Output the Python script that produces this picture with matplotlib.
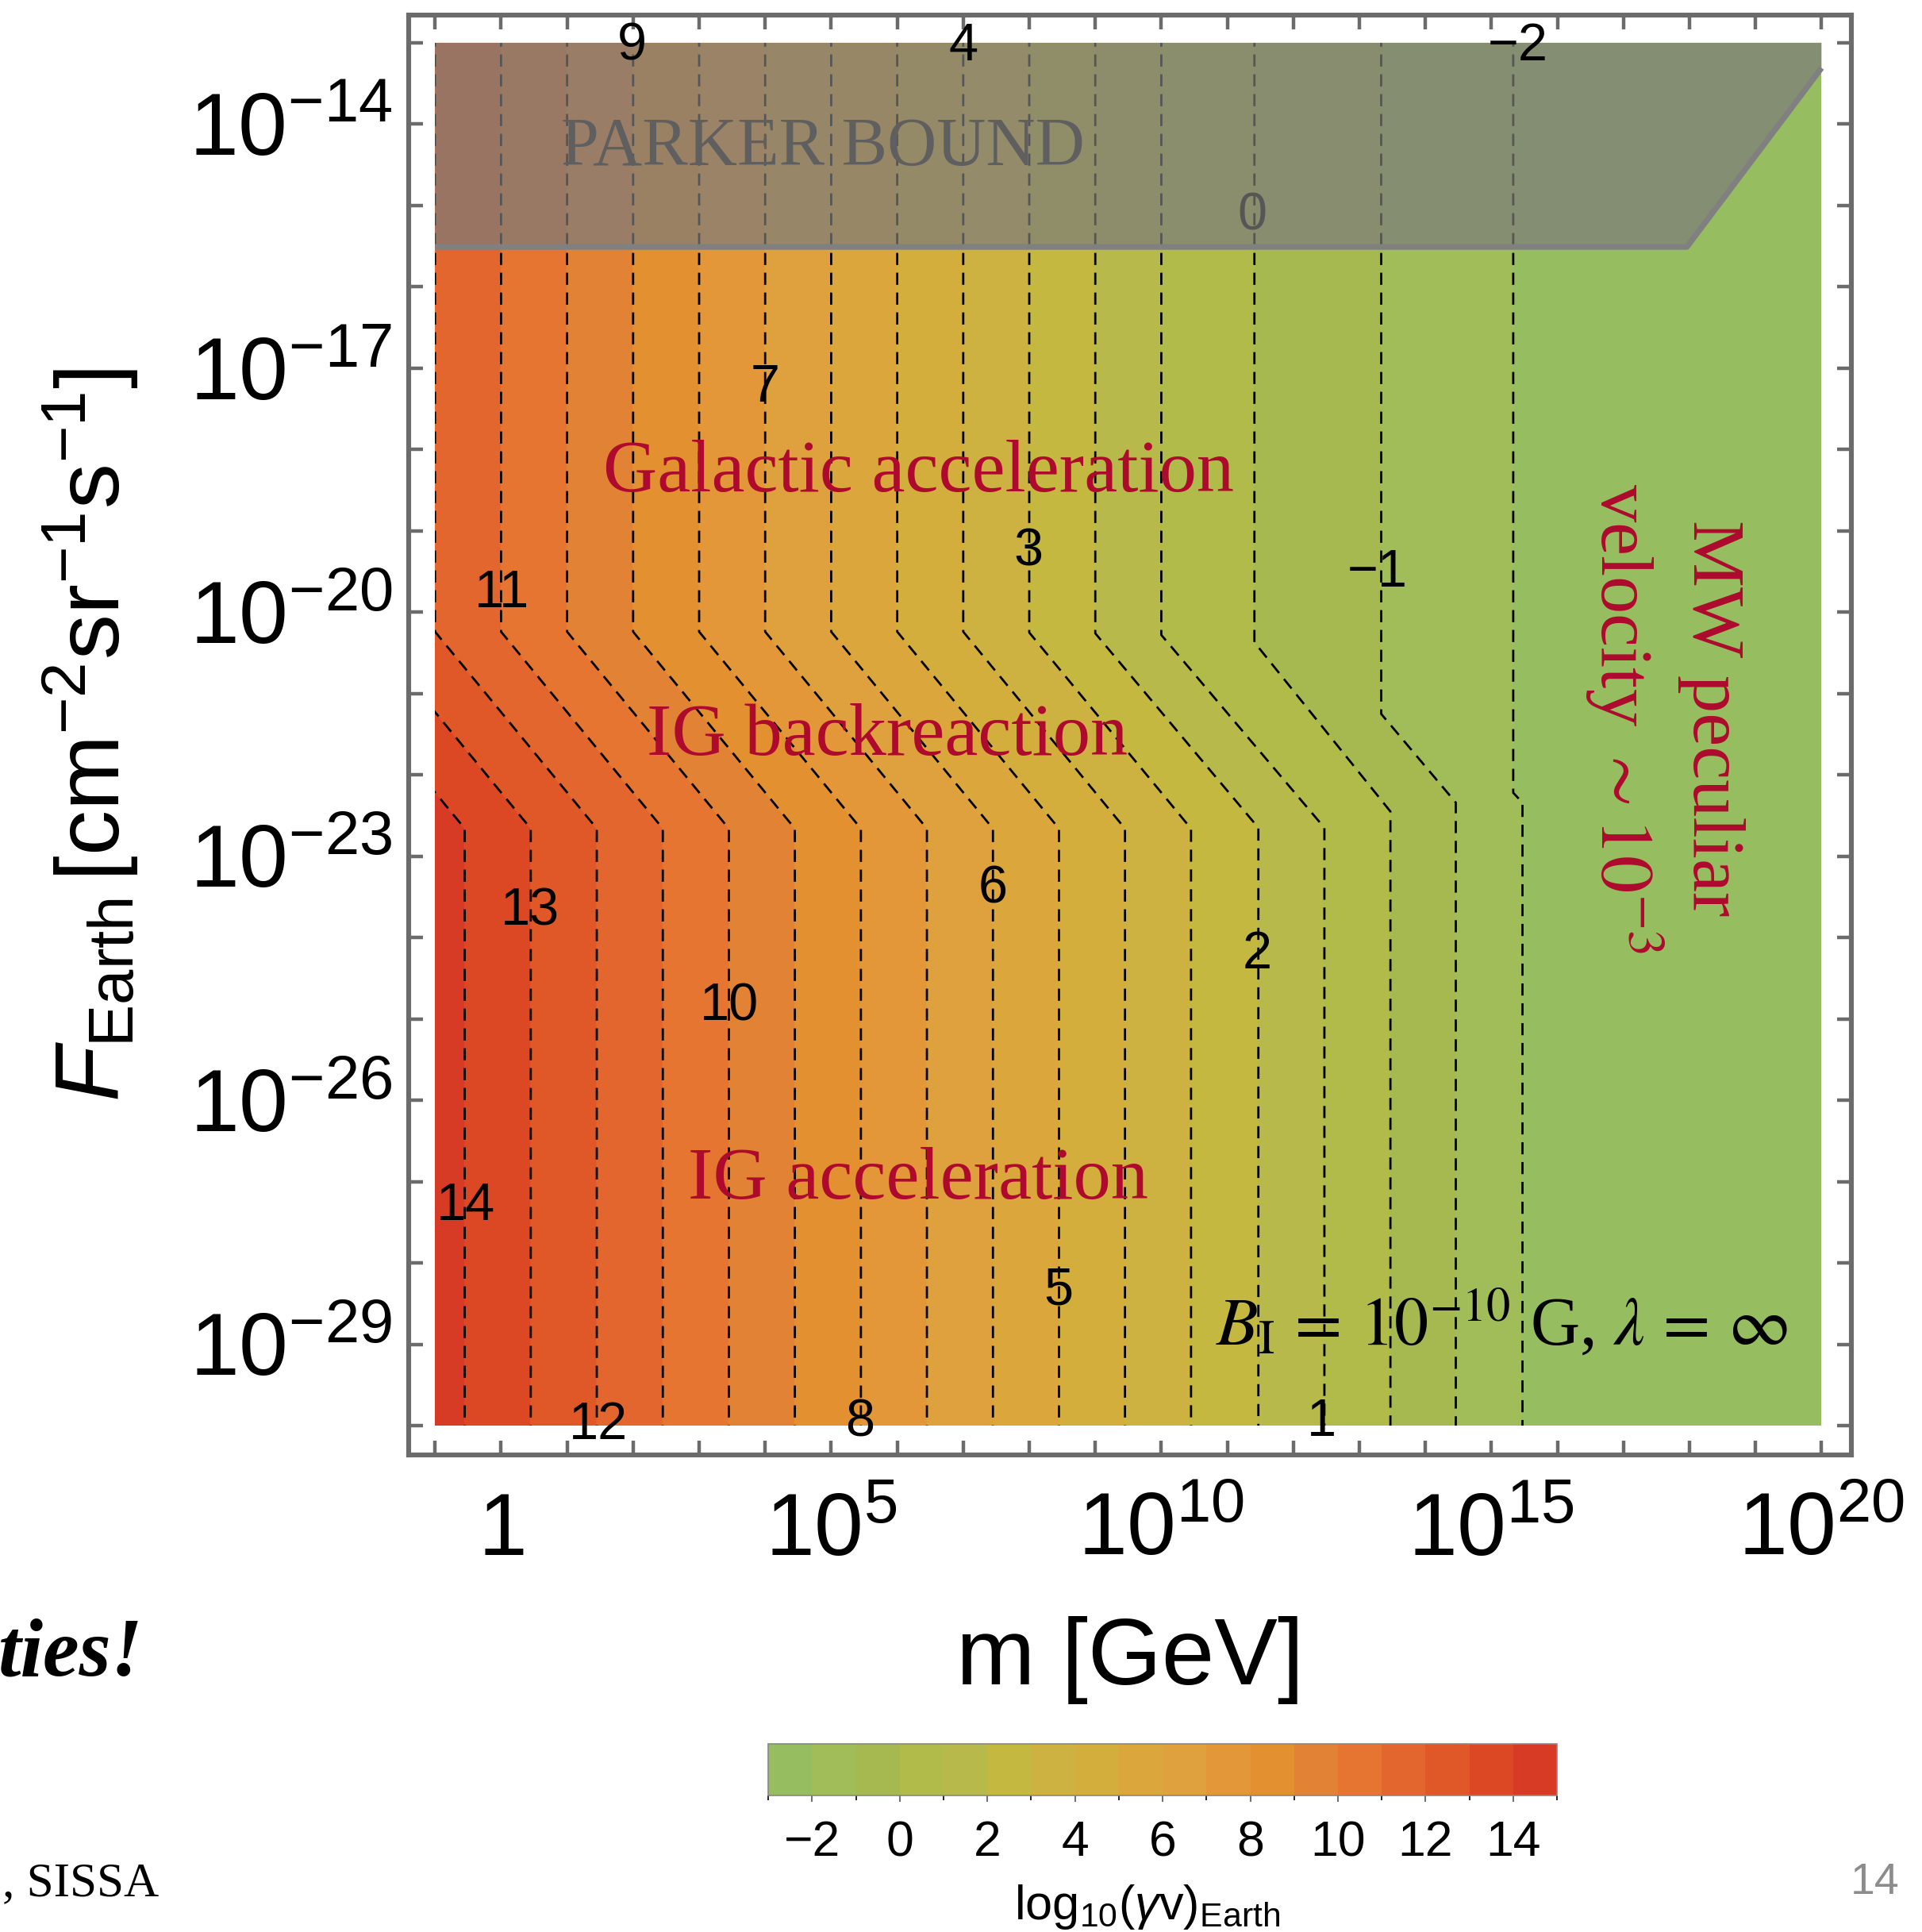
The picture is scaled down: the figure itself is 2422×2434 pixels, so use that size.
import numpy as np
import matplotlib
matplotlib.use("Agg")
import matplotlib.pyplot as plt
import matplotlib.ticker as mticker
from matplotlib.colors import ListedColormap, BoundaryNorm
from matplotlib.cm import ScalarMappable
from matplotlib.patches import Rectangle
from matplotlib.transforms import ScaledTranslation

plt.rcParams['font.family'] = ['Liberation Sans', 'DejaVu Sans']
plt.rcParams['mathtext.fontset'] = 'custom'
plt.rcParams['mathtext.rm'] = 'Liberation Sans'
plt.rcParams['mathtext.it'] = 'Liberation Sans:italic'
plt.rcParams['mathtext.bf'] = 'Liberation Sans:bold'

# contour levels of log10(gamma v), left to right, and where each dashed line runs
# (log10 m on top, bend points in log10 F, log10 m below)
levels = [14, 13, 12, 11, 10, 9, 8, 7, 6, 5, 4, 3, 2, 1, 0, -1, -2]
m_top = [-3.0, -2.0, -1.0, 0.0, 1.0, 2.0, 3.0, 4.0, 5.0, 6.0, 7.0, 8.0, 9.0, 10.0, 11.41, 13.33, 15.33]
F_bend_top = [-20.24, -20.24, -20.24, -20.24, -20.24, -20.24, -20.24, -20.24, -20.24, -20.24,
              -20.24, -20.25, -20.26, -20.28, -20.37, -21.25, -22.22]
F_bend_bot = [-22.66, -22.66, -22.66, -22.66, -22.66, -22.66, -22.66, -22.66, -22.66, -22.66,
              -22.66, -22.66, -22.65, -22.65, -22.45, -22.34, -22.34]
m_bot = [-0.55, 0.45, 1.45, 2.45, 3.45, 4.45, 5.45, 6.45, 7.45, 8.45, 9.45, 10.45, 11.47, 12.47,
         13.47, 14.46, 15.47]

# colour of each band, from [14, 15] down to [-3, -2]
band_colors = ['#d73a25', '#dc4724', '#e05828', '#e2662d', '#e57530', '#e28235', '#e39031',
               '#e49738', '#dea13d', '#dba63b', '#d4ae3d', '#cdb242', '#c4b841', '#b8b94b',
               '#b0bb4a', '#a6b950', '#a0bd5a', '#96bd5f']
cbar_bounds = [-3, -2, -1, 0, 1, 2, 3, 4, 5, 6, 7, 8, 9, 10, 11, 12, 13, 14, 15]
cbar_ticks = [-2, 0, 2, 4, 6, 8, 10, 12, 14]

# Parker bound region (log10 m, log10 F)
parker_m = [-1.0, 17.96, 20.0, 20.0, -1.0]
parker_F = [-15.51, -15.51, -13.31, -13.0, -13.0]

# contour labels
lab_text = ['9', '4', '\u22122', '0', '7', '3', '\u22121', '11', '13', '6', '2', '10', '14', '5', '12', '8', '1']
lab_m = [1.98, 7.0, 15.4, 11.38, 4.0, 7.99, 13.27, 0.01, 0.44, 7.45, 11.45, 3.46, -0.53, 8.44, 1.47, 5.44, 12.43]
lab_F = [-13.05, -13.05, -13.05, -15.13, -17.25, -19.26, -19.52, -19.77, -23.68, -23.41, -24.21,
         -24.85, -27.31, -28.34, -30.0, -29.96, -29.96]

x_tick_pos = [0, 5, 10, 15, 20]
x_tick_lab = ['$1$', '$10^{5}$', '$10^{10}$', '$10^{15}$', '$10^{20}$']
y_tick_pos = [-14, -17, -20, -23, -26, -29]
y_tick_lab = ['$10^{-14}$', '$10^{-17}$', '$10^{-20}$', '$10^{-23}$', '$10^{-26}$', '$10^{-29}$']

frame_col = '#6b6b6b'
red_txt = '#ae0a2e'
dash = (0, (5.5, 3.5))

fig = plt.figure(figsize=(12.11, 12.17), dpi=200)
ax = fig.add_axes([0.2126, 0.2469, 0.7506, 0.7453])
ax.set_xscale('log')
ax.set_yscale('log')
ax.set_xlim(10 ** -1.4, 10 ** 20.45)
ax.set_ylim(10 ** -30.36, 10 ** -12.66)

clip = Rectangle((10 ** -1, 1e-30), 10 ** 20 - 10 ** -1, 1e-13 - 1e-30, transform=ax.transData,
                 fc='none', ec='none')


def contour_path(i):
    xs = [m_top[i], m_top[i], m_bot[i], m_bot[i]]
    ys = [-12.9, F_bend_top[i], F_bend_bot[i], -30.1]
    return xs, ys


# colour bands between neighbouring contours
left_x, left_y = [-2.0, -2.0], [-12.9, -30.1]
for k in range(len(levels) + 1):
    if k < len(levels):
        rx, ry = contour_path(k)
    else:
        rx, ry = [21.0, 21.0], [-12.9, -30.1]
    xs = np.array(left_x + rx[::-1])
    ys = np.array(left_y + ry[::-1])
    polys = ax.fill(10 ** xs, 10 ** ys, color=band_colors[k], lw=0.4, ec=band_colors[k], zorder=1)
    for p in polys:
        p.set_clip_path(clip)
    left_x, left_y = rx, ry

for i in range(len(levels)):
    xs, ys = contour_path(i)
    ln, = ax.plot(10 ** np.array(xs), 10 ** np.array(ys), color='k', lw=1.0, ls=dash, zorder=2)
    ln.set_clip_path(clip)

# Parker bound overlay
ax.fill(10 ** np.array(parker_m), 10 ** np.array(parker_F), color='#7b7b7b', alpha=0.7, lw=0, zorder=3)
ax.plot(10 ** np.array(parker_m[:3]), 10 ** np.array(parker_F[:3]), color='#808080', lw=2.6,
        solid_capstyle='butt', zorder=3.5)

for t, lm, lf in zip(lab_text, lab_m, lab_F):
    z = 2.5 if t == '0' else 5
    ax.text(10 ** lm, 10 ** lf, t, ha='center', va='center', fontsize=24, color='k', zorder=z)

serif = dict(family='Liberation Serif', math_fontfamily='stix')
ax.text(10 ** 0.91, 10 ** -14.5, 'PARKER BOUND', ha='left', va='baseline', fontsize=31,
        color='#5f5f5f', zorder=4, **serif)
ax.text(10 ** 6.32, 10 ** -18.51, 'Galactic acceleration', ha='center', va='baseline', fontsize=34,
        color=red_txt, zorder=4, **serif)
ax.text(10 ** 5.85, 10 ** -21.75, 'IG backreaction', ha='center', va='baseline', fontsize=34,
        color=red_txt, zorder=4, **serif)
ax.text(10 ** 6.32, 10 ** -27.21, 'IG acceleration', ha='center', va='baseline', fontsize=34,
        color=red_txt, zorder=4, **serif)
ax.text(10 ** 17.62, 10 ** -21.3, 'MW peculiar\nvelocity $\\sim 10^{-3}$', rotation=-90,
        ha='center', va='center', multialignment='center', linespacing=1.2, fontsize=34,
        color=red_txt, zorder=4, **serif)
ax.text(10 ** 19.49, 10 ** -29.0, r'$B_{\rm I}\, =\, 10^{-10}$ G, $\lambda\, =\, \infty$', ha='right',
        va='baseline', fontsize=31, color='k', zorder=4, **serif)

# frame and ticks
ax.set_xticks([10.0 ** p for p in x_tick_pos], x_tick_lab)
ax.set_yticks([10.0 ** p for p in y_tick_pos], y_tick_lab)
ax.xaxis.set_minor_locator(mticker.FixedLocator([10.0 ** p for p in range(-1, 21)]))
ax.yaxis.set_minor_locator(mticker.FixedLocator([10.0 ** p for p in range(-30, -12)]))
ax.xaxis.set_minor_formatter(mticker.NullFormatter())
ax.yaxis.set_minor_formatter(mticker.NullFormatter())
ax.tick_params(which='both', direction='in', top=True, right=True, length=6.5, width=1.6,
               color=frame_col, labelsize=40)
ax.tick_params(axis='x', which='major', pad=45.5)
ax.tick_params(axis='y', which='major', pad=7.5)
for lab in ax.get_xticklabels():
    lab.set_verticalalignment('baseline')
shift = ScaledTranslation(0, -14.3 / 72, fig.dpi_scale_trans)
for lab in ax.get_yticklabels():
    lab.set_verticalalignment('baseline')
    lab.set_transform(lab.get_transform() + shift)
for sp in ax.spines.values():
    sp.set_color(frame_col)
    sp.set_linewidth(2.2)

ax.set_xlabel('m [GeV]', fontsize=43, va='top')
ax.xaxis.set_label_coords(0.5, -0.112)
ax.set_ylabel(r'$F_{\rm Earth}\,[\mathrm{cm}^{-2}\mathrm{sr}^{-1}\mathrm{s}^{-1}]$', fontsize=41)
ax.yaxis.set_label_coords(-0.186, 0.5)

# colour bar
cax = fig.add_axes([0.3997, 0.0707, 0.4104, 0.0267])
cmap = ListedColormap(band_colors[::-1])
norm = BoundaryNorm(cbar_bounds, cmap.N)
cb = fig.colorbar(ScalarMappable(norm=norm, cmap=cmap), cax=cax, orientation='horizontal',
                  ticks=cbar_ticks)
cb.ax.tick_params(labelsize=22.5, length=3, width=0.6, color='#555555', pad=8)
cb.outline.set_linewidth(0.6)
cb.outline.set_edgecolor('#888888')
cb.set_label(r'log$_{10}$($\gamma$v)$_{\mathrm{Earth}}$', fontsize=22)
cb.ax.xaxis.set_label_coords(0.48, -2.4)
cb.ax.xaxis.label.set_verticalalignment('baseline')

# slide leftovers
fig.text(0.0745, 0.1331, 'ties!', ha='right', va='baseline', fontsize=37, family='Liberation Serif',
         style='italic', weight='bold')
fig.text(0.0826, 0.0189, ', SISSA', ha='right', va='baseline', fontsize=22, family='Liberation Serif')
fig.text(0.9884, 0.0197, '14', ha='right', va='baseline', fontsize=20, color='#8c8c8c')

fig.savefig('out.png', dpi=200)
